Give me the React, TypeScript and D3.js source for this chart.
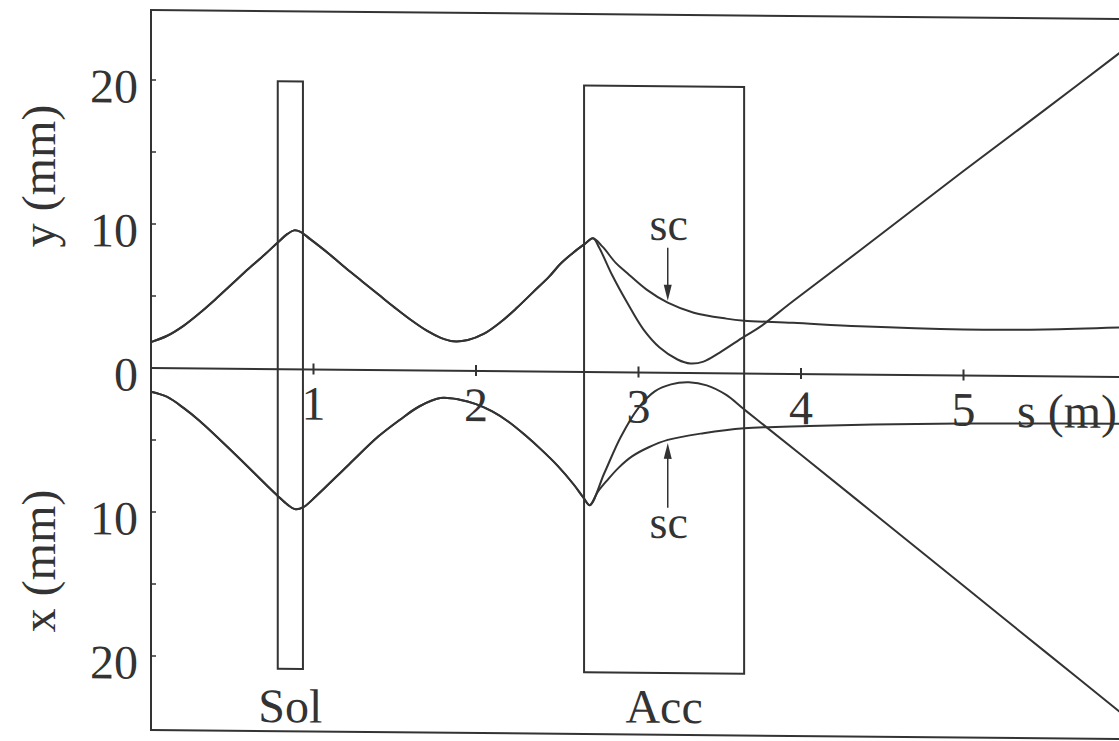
import React from 'react';
import * as d3 from 'd3';

// s positions (m) and beam sizes (mm)
// common part of the y envelope, up to the entrance of the accelerating section
const S_Y_COMMON = [0, 0.1, 0.2, 0.3, 0.4, 0.5, 0.6, 0.7, 0.78, 0.84, 0.88, 0.92, 0.98, 1.1, 1.2, 1.3, 1.4, 1.5, 1.6, 1.7, 1.78, 1.86, 1.95, 2.05, 2.15, 2.25, 2.35, 2.45, 2.52, 2.6, 2.67, 2.72];
const Y_COMMON = [1.8, 2.25, 2.95, 3.85, 4.85, 5.9, 6.95, 7.95, 8.8, 9.4, 9.65, 9.55, 9.05, 8.0, 7.05, 6.15, 5.25, 4.35, 3.5, 2.75, 2.3, 2.05, 2.15, 2.6, 3.4, 4.4, 5.5, 6.6, 7.5, 8.3, 8.9, 9.3];

// y envelope without space charge
const S_Y_NOSC = [2.76, 2.84, 2.93, 3.03, 3.13, 3.24, 3.32, 3.4, 3.5, 3.65, 3.75, 3.95, 4.36, 5.0, 5.5, 6.0];
const Y_NOSC = [8.6, 6.7, 4.85, 3.0, 1.75, 0.93, 0.66, 0.8, 1.44, 2.56, 3.27, 5.05, 8.6, 14.2, 18.5, 22.85];

// y envelope with space charge (sc)
const S_Y_SC = [2.78, 2.86, 2.93, 3.05, 3.18, 3.34, 3.54, 3.65, 3.95, 4.36, 5.0, 5.5, 6.0];
const Y_SC = [8.7, 7.6, 6.9, 5.76, 4.87, 4.19, 3.8, 3.67, 3.55, 3.35, 3.2, 3.25, 3.45];

// x envelope (drawn downwards)
const S_X_COMMON = [0, 0.1, 0.2, 0.3, 0.5, 0.71, 0.78, 0.84, 0.89, 0.94, 1.02, 1.22, 1.4, 1.53, 1.65, 1.78, 1.9, 2.0, 2.1, 2.2, 2.3, 2.4, 2.5, 2.6, 2.66, 2.7];
const X_COMMON = [1.65, 2.0, 2.75, 3.65, 5.75, 8.05, 8.8, 9.4, 9.72, 9.55, 8.75, 6.55, 4.6, 3.45, 2.5, 1.9, 2.0, 2.3, 2.8, 3.5, 4.4, 5.4, 6.5, 7.8, 8.7, 9.24];

const S_X_NOSC = [2.79, 2.89, 3.0, 3.1, 3.2, 3.31, 3.42, 3.54, 3.64, 3.73, 4.0, 4.5, 5.0, 5.5, 6.0];
const X_NOSC = [7.0, 4.5, 2.45, 1.3, 0.8, 0.65, 0.85, 1.5, 2.4, 3.2, 5.6, 10.1, 14.6, 19.1, 23.6];

const S_X_SC = [2.75, 2.81, 2.88, 2.96, 3.06, 3.18, 3.4, 3.65, 4.05, 4.71, 5.3, 6.0];
const X_SC = [8.3, 7.47, 6.6, 5.83, 5.2, 4.66, 4.17, 3.8, 3.6, 3.39, 3.3, 3.25];

// elements: name, s start, s end, top (y mm), bottom (x mm)
const ELEMENTS = ['Sol', 'Acc'];
const ELEM_S0 = [0.78, 2.665];
const ELEM_S1 = [0.935, 3.65];
const ELEM_TOP = [20, 19.9];
const ELEM_BOTTOM = [20.8, 20.85];

const S_TICKS = [1, 2, 3, 4, 5];
const MM_MAJOR = [10, 20];
const MM_MINOR = [5, 15];

// where the "sc" arrows point
const SC_S = 3.18;
const SC_Y = 4.87;
const SC_X = 4.66;

const W = 1119;
const H = 741;
const INK = '#333';
const FONT = '"Liberation Serif", "Times New Roman", serif';

const xScale = d3.scaleLinear().domain([0, 6]).range([151, 1126]);
const yUp = d3.scaleLinear().domain([0, 20]).range([368, 80]);
const xDown = d3.scaleLinear().domain([0, 20]).range([368, 656]);

const zip = (s: number[], v: number[]) => s.map((d, i) => [d, v[i]] as [number, number]);

export default function App() {
  const up = d3.line<[number, number]>()
    .x(d => xScale(d[0]))
    .y(d => yUp(d[1]))
    .curve(d3.curveCatmullRom.alpha(0.5));
  const down = d3.line<[number, number]>()
    .x(d => xScale(d[0]))
    .y(d => xDown(d[1]))
    .curve(d3.curveCatmullRom.alpha(0.5));

  const yCommon = zip(S_Y_COMMON, Y_COMMON);
  const xCommon = zip(S_X_COMMON, X_COMMON);
  const curves = [
    up(yCommon.concat(zip(S_Y_NOSC, Y_NOSC))),
    up(yCommon.concat(zip(S_Y_SC, Y_SC))),
    down(xCommon.concat(zip(S_X_NOSC, X_NOSC))),
    down(xCommon.concat(zip(S_X_SC, X_SC))),
  ];

  const left = xScale(0);
  const right = xScale(6);
  const zero = yUp(0);
  // the scanned figure is slightly tilted
  const skew = 0.0093;

  const tickLabel = (v: number, y: number, key: string) => (
    <text key={key} x={138} y={y} dy="0.35em" transform="translate(0,6)" textAnchor="end">{v}</text>
  );

  const scx = xScale(SC_S);
  const tipUp = yUp(SC_Y) - 2;
  const tipDown = xDown(SC_X) + 3;

  return (
    <svg width={W} height={H} style={{ position: 'absolute', left: 0, top: 0, background: '#fff' }}
      fontFamily={FONT} fontSize={48} fill={INK}>
      <g transform={`matrix(1,${skew},0,1,0,${-skew * left})`}>
        <rect x={left} y={10} width={right - left} height={720} fill="none" stroke={INK} strokeWidth={2} />
        <line x1={left} x2={right} y1={zero} y2={zero} stroke={INK} strokeWidth={2} />

        {S_TICKS.map(s => (
          <g key={'st' + s}>
            <line x1={xScale(s)} x2={xScale(s)} y1={zero - 6} y2={zero + 5} stroke={INK} strokeWidth={2} />
            <text x={xScale(s)} y={418} textAnchor="middle">{s}</text>
          </g>
        ))}
        <text x={1017} y={419}>s (m)</text>

        {MM_MAJOR.concat(MM_MINOR).map(v => (
          <g key={'yt' + v}>
            <line x1={left} x2={left + 5} y1={yUp(v)} y2={yUp(v)} stroke={INK} strokeWidth={1.5} />
            <line x1={left} x2={left + 5} y1={xDown(v)} y2={xDown(v)} stroke={INK} strokeWidth={1.5} />
          </g>
        ))}
        {tickLabel(0, zero, 'l0')}
        {MM_MAJOR.map(v => tickLabel(v, yUp(v), 'lu' + v))}
        {MM_MAJOR.map(v => tickLabel(v, xDown(v), 'ld' + v))}

        <text transform={`translate(55,${177}) rotate(-90)`} textAnchor="middle">y (mm)</text>
        <text transform={`translate(55,${562}) rotate(-90)`} textAnchor="middle">x (mm)</text>

        {ELEMENTS.map((name, i) => (
          <g key={name}>
            <rect x={xScale(ELEM_S0[i])} y={yUp(ELEM_TOP[i])}
              width={xScale(ELEM_S1[i]) - xScale(ELEM_S0[i])}
              height={xDown(ELEM_BOTTOM[i]) - yUp(ELEM_TOP[i])}
              fill="none" stroke={INK} strokeWidth={2} />
            <text x={(xScale(ELEM_S0[i]) + xScale(ELEM_S1[i])) / 2} y={i === 0 ? 721 : 718}
              textAnchor="middle">{name}</text>
          </g>
        ))}

        {curves.map((d, i) => (
          <path key={'c' + i} d={d || ''} fill="none" stroke={INK} strokeWidth={2} />
        ))}

        <text x={scx + 1} y={235} textAnchor="middle" fontSize={46}>sc</text>
        <line x1={scx} x2={scx} y1={243} y2={tipUp - 10} stroke={INK} strokeWidth={1.5} />
        <path d={`M${scx},${tipUp} L${scx - 4},${tipUp - 16} L${scx + 4},${tipUp - 16} Z`} fill={INK} />

        <text x={scx + 1} y={533} textAnchor="middle" fontSize={46}>sc</text>
        <line x1={scx} x2={scx} y1={503} y2={tipDown + 10} stroke={INK} strokeWidth={1.5} />
        <path d={`M${scx},${tipDown} L${scx - 4},${tipDown + 16} L${scx + 4},${tipDown + 16} Z`} fill={INK} />
      </g>
    </svg>
  );
}
